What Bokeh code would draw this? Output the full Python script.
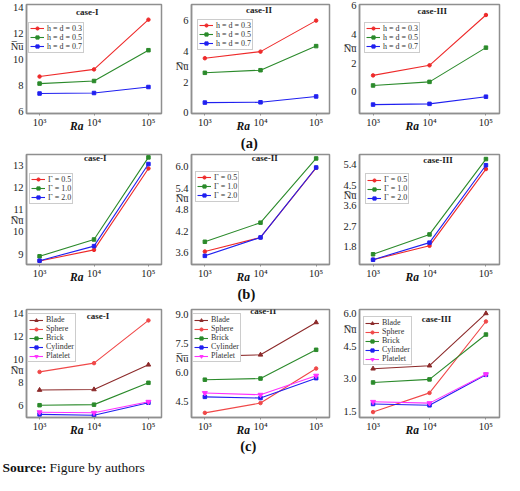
from bokeh.plotting import figure
from bokeh.models import Range1d, FixedTicker, NumeralTickFormatter, Label, Legend, LegendItem
from bokeh.layouts import column, row
from bokeh.core.properties import value
from bokeh.embed import file_html
from bokeh.resources import INLINE

# ---------------- data ----------------
Ra = [1e3, 1e4, 1e5]
ra_tick_labels = ["10\u00b3", "10\u2074", "10\u2075"]
case_titles = ["case-I", "case-II", "case-III"]
nu_text = "N\u0305u\u0305"

hd_labels = ["h = d = 0.3", "h = d = 0.5", "h = d = 0.7"]
gamma_labels = ["\u0393 = 0.5", "\u0393 = 1.0", "\u0393 = 2.0"]
shape_labels = ["Blade", "Sphere", "Brick", "Cylinder", "Platelet"]

# (a) effect of h = d
a_case1 = [[8.68, 9.23, 13.04], [8.14, 8.34, 10.70], [7.38, 7.42, 7.88]]
a_case2 = [[3.55, 3.98, 6.00], [2.60, 2.77, 4.34], [0.66, 0.68, 1.06]]
a_case3 = [[1.15, 1.85, 5.35], [0.45, 0.70, 3.08], [-0.88, -0.83, -0.33]]
# (b) effect of Gamma
b_case1 = [[8.69, 9.19, 12.87], [8.90, 9.66, 13.37], [8.70, 9.36, 13.07]]
b_case2 = [[3.64, 4.03, 5.96], [3.91, 4.44, 6.22], [3.52, 4.03, 5.97]]
b_case3 = [[1.23, 1.84, 5.21], [1.47, 2.34, 5.65], [1.23, 1.98, 5.38]]
# (c) effect of nanoparticle shape
c_case1 = [[7.32, 7.37, 9.52], [8.90, 9.66, 13.38], [6.00, 6.05, 7.95], [5.20, 5.12, 6.22], [5.39, 5.34, 6.30]]
c_case2 = [[6.84, 6.92, 8.60], [3.91, 4.42, 6.21], [5.63, 5.69, 7.18], [4.74, 4.68, 5.71], [4.94, 4.85, 5.84]]
c_case3 = [[3.46, 3.60, 6.00], [1.47, 2.35, 5.63], [2.83, 2.97, 5.03], [1.84, 1.78, 3.18], [1.94, 1.88, 3.21]]

# y axis ranges and ticks per panel
y_ranges = {
    "a": [(5.85, 14.2), (-0.05, 7.05), (-1.5, 6.08)],
    "b": [(8.53, 13.5), (3.28, 6.33), (1.02, 5.85)],
    "c": [(4.93, 14.33), (3.67, 9.27), (1.22, 6.18)],
}
y_ticks = {
    "a": [[6, 8, 10, 12, 14], [0, 2, 4, 6], [0, 2, 4, 6]],
    "b": [[9, 10, 11, 12, 13], [3.6, 4.2, 4.8, 5.4, 6.0], [1.8, 2.7, 3.6, 4.5, 5.4]],
    "c": [[6, 8, 10, 12, 14], [4.5, 6.0, 7.5, 9.0], [1.5, 3.0, 4.5, 6.0]],
}
y_formats = {
    "a": ["0", "0", "0"],
    "b": ["0", "0.0", "0.0"],
    "c": ["0", "0.0", "0.0"],
}
# height (in data units) at which the Nu label sits beside each y axis
nu_at = {
    "a": [11.0, 3.0, 3.0],
    "b": [10.5, 5.1, 4.05],
    "c": [9.0, 6.75, 5.25],
}
sub_labels = {"a": "(a)", "b": "(b)", "c": "(c)"}
source_bold = "Source:"
source_text = "Figure by authors"

# ---------------- styling ----------------
FONT = "Liberation Serif"
FRAME_COL = "#8f8f8f"
RED = "#ee2a2a"
GREEN = "#2b8a2b"
BLUE = "#2020f0"
BROWN = "#8c2a2a"
SPHERE = "#f04848"
MAGENTA = "#ff30ff"

col_w = 168
col_left = [26, 23, 23]
col_right = [7, 7, 5]
row_geom = {"a": (134, 4, 19), "b": (134, 3, 17), "c": (135, 6, 17)}
label_row_h = {"a": 17, "b": 18, "c": 18}
label_row_pos = {"a": (248.8, 8.3), "b": (245.9, 8.0), "c": (247.8, 7.3)}

legend_off = {
    "a": [(2, 13.5), (6, 10.6), (5, 13.5)],
    "b": [(3, 16.5), (4, 14.5), (6, 17.4)],
    "c": [(1, 1), (1, 1), (4, 4)],
}
title_pos = {
    "a": [(0.45, 9), (0.49, 7), (0.52, 8)],
    "b": [(0.51, 7), (0.53, 7), (0.56, 9)],
    "c": [(0.53, 10), (0.52, 5), (0.55, 13)],
}

styles_abc = {
    "a": ([RED, GREEN, BLUE], ["circle", "square", "square"], [3.5, 3.5, 3.5]),
    "b": ([RED, GREEN, BLUE], ["circle", "square", "square"], [3.5, 3.5, 3.5]),
    "c": ([BROWN, SPHERE, GREEN, BLUE, MAGENTA],
          ["triangle", "circle", "square", "square", "inverted_triangle"],
          [4.5, 3.5, 3.5, 3.5, 5]),
}
data_abc = {
    "a": [a_case1, a_case2, a_case3],
    "b": [b_case1, b_case2, b_case3],
    "c": [c_case1, c_case2, c_case3],
}
labels_abc = {"a": hd_labels, "b": gamma_labels, "c": shape_labels}


def make_panel(rk, ci):
    h, top, bottom = row_geom[rk]
    frame_h = h - top - bottom
    frame_w = col_w - col_left[ci] - col_right[ci]
    y0, y1 = y_ranges[rk][ci]
    p = figure(width=col_w, height=h, x_axis_type="log", title=None,
               x_range=Range1d(10 ** 2.76, 10 ** 5.24), y_range=Range1d(y0, y1),
               output_backend="svg", toolbar_location=None,
               min_border_left=col_left[ci], min_border_right=col_right[ci],
               min_border_top=top, min_border_bottom=bottom)
    p.grid.visible = False
    p.outline_line_color = FRAME_COL
    p.outline_line_width = 1.5
    p.background_fill_color = "white"
    p.border_fill_color = "white"

    for ax in (p.xaxis[0], p.yaxis[0]):
        ax.axis_line_color = FRAME_COL
        ax.axis_line_width = 1.5
        ax.major_tick_line_color = FRAME_COL
        ax.minor_tick_line_color = None
        ax.major_label_text_font = FONT
        ax.major_label_text_font_size = "10.5px"
        ax.major_label_text_color = "#222222"
    xa, ya = p.xaxis[0], p.yaxis[0]
    xa.major_tick_in = 0
    xa.major_tick_out = 2
    xa.major_label_standoff = 1
    xa.ticker = FixedTicker(ticks=Ra)
    xa.major_label_overrides = {int(v): t for v, t in zip(Ra, ra_tick_labels)}
    xa.axis_label = "Ra\u2003\u2003\u2003"
    xa.axis_label_text_font = FONT
    xa.axis_label_text_font_style = "bold italic"
    xa.axis_label_text_font_size = "11.5px"
    xa.axis_label_text_color = "#111111"
    xa.axis_label_standoff = -11

    ya.major_tick_in = 0
    ya.major_tick_out = 0
    ya.major_label_standoff = 3
    nu_y = nu_at[rk][ci]
    ya.ticker = FixedTicker(ticks=list(y_ticks[rk][ci]) + [nu_y])
    ya.formatter = NumeralTickFormatter(format=y_formats[rk][ci])
    ya.major_label_overrides = {float(nu_y): nu_text}

    colors, markers, sizes = styles_abc[rk]
    items = []
    for series, lab, c, m, s in zip(data_abc[rk][ci], labels_abc[rk], colors, markers, sizes):
        lr = p.line(Ra, series, line_color=c, line_width=1.1)
        sr = p.scatter(Ra, series, marker=m, size=s, fill_color=c, line_color=c)
        items.append(LegendItem(label=lab, renderers=[lr, sr]))

    n = len(items)
    leg_h = 8.5 + 9.5 * n
    lx, ly = legend_off[rk][ci]
    legend = Legend(items=items, location=(lx, frame_h - ly - leg_h),
                    border_line_color="#9a9a9a", border_line_width=1,
                    background_fill_color="white", background_fill_alpha=1,
                    label_text_font=FONT, label_text_font_size="8px",
                    label_text_color="#333333",
                    glyph_width=14, glyph_height=8, label_height=8,
                    spacing=0, padding=1, margin=0, label_standoff=3)
    p.add_layout(legend)

    fx, fy = title_pos[rk][ci]
    p.add_layout(Label(x=fx * frame_w, y=frame_h - fy, x_units="screen", y_units="screen",
                       text=case_titles[ci], text_font=FONT, text_font_style="bold",
                       text_font_size="9px", text_align="center", text_baseline="middle",
                       text_color="#222222"))
    return p


def text_row(h, xs, ys, texts, styles, sizes, aligns):
    t = figure(width=504, height=h, x_range=Range1d(0, 504), y_range=Range1d(0, h),
               output_backend="svg", toolbar_location=None, title=None,
               x_axis_location=None, y_axis_location=None,
               min_border_left=0, min_border_right=0, min_border_top=0, min_border_bottom=0)
    t.outline_line_color = None
    t.grid.visible = False
    for x, y, s, st, sz, al in zip(xs, ys, texts, styles, sizes, aligns):
        t.text(x=[x], y=[h - y], text=[s], text_font=value(FONT), text_font_style=st,
               text_font_size=sz, text_align=al, text_baseline="middle", text_color="#111111")
    return t


blocks = []
for rk in ["a", "b", "c"]:
    blocks.append(row(*[make_panel(rk, ci) for ci in range(3)]))
    lx, ly = label_row_pos[rk]
    blocks.append(text_row(label_row_h[rk], [lx], [ly], [sub_labels[rk]], ["bold"],
                           ["14.5px"], ["center"]))
blocks.append(text_row(19, [2, 49], [10.6, 10.6], [source_bold, source_text],
                       ["bold", "normal"], ["13.5px", "13.5px"], ["left", "left"]))
layout = column(*blocks)

open("out.html", "w").write(file_html(layout, INLINE))
